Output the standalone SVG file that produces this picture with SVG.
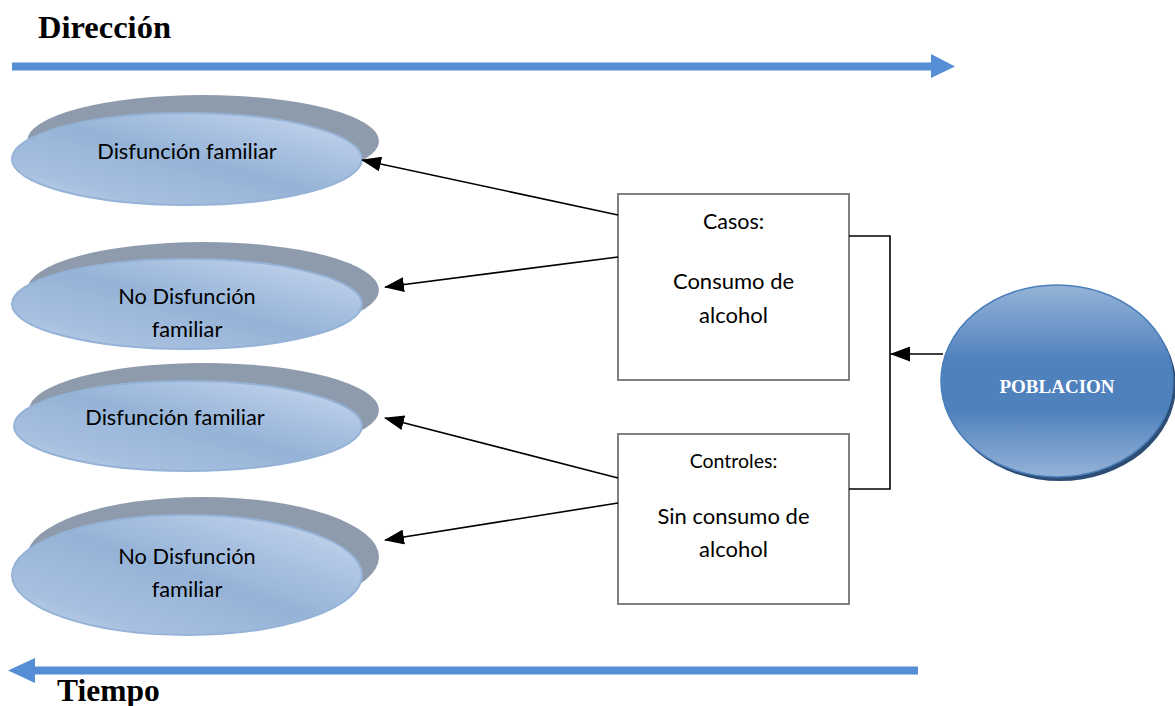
<svg xmlns="http://www.w3.org/2000/svg" width="1175" height="706" viewBox="0 0 1175 706">
<style>
.lbl{font-family:Lato,"Liberation Sans",sans-serif;font-size:21.8px;fill:#000;text-anchor:middle}
.box{fill:#fff;stroke:#7f7f7f;stroke-width:2}
.shadow{fill:#8e9bac}
.front{fill:url(#gFront);stroke:#95b3d7;stroke-width:2}
.conn{fill:none;stroke:#000;stroke-width:1.6}
.big{font-family:"Liberation Serif",serif;font-weight:bold;font-size:31.5px;fill:#000}
.blue{fill:#558ed5}
</style>
<defs>
<linearGradient id="gFront" x1="0" y1="1" x2="1" y2="0">
<stop offset="0" stop-color="#c9d8ee"/>
<stop offset="0.2" stop-color="#a8c0e0"/>
<stop offset="0.5" stop-color="#95b3d7"/>
<stop offset="0.8" stop-color="#b4c9e6"/>
<stop offset="1" stop-color="#d3e0f1"/>
</linearGradient>
<linearGradient id="gPob" x1="0" y1="0" x2="0" y2="1">
<stop offset="0" stop-color="#95b3d7"/>
<stop offset="0.4" stop-color="#4f81bd"/>
<stop offset="0.65" stop-color="#4f81bd"/>
<stop offset="1" stop-color="#95b3d7"/>
</linearGradient>
<marker id="ahL" markerWidth="20" markerHeight="15" refX="19" refY="7.5" orient="auto" markerUnits="userSpaceOnUse" viewBox="0 0 20 15">
<path d="M0,0 L20,7.5 L0,15 Z" fill="#000"/>
</marker>
</defs>

<g id="direccion">
<text class="big" x="38" y="38" style="font-size:32.5px">Dirección</text>
<path class="blue" d="M12,62.5 H931 V54 L955,66.5 L931,78 V70.5 H12 Z"/>
</g>

<g id="tiempo">
<path class="blue" d="M918,666.5 H35 V658 L8,670.5 L35,683 V674.5 H918 Z"/>
<text class="big" x="57" y="701">Tiempo</text>
</g>

<g id="e1">
<ellipse class="shadow" cx="203" cy="141" rx="176" ry="46"/>
<ellipse class="front" cx="187" cy="159" rx="175" ry="46"/>
<text class="lbl" x="187" y="159">Disfunción familiar</text>
</g>

<g id="e2">
<ellipse class="shadow" cx="203" cy="290" rx="176" ry="48"/>
<ellipse class="front" cx="187" cy="304" rx="175" ry="45"/>
<text class="lbl" x="187" y="304">No Disfunción</text>
<text class="lbl" x="187" y="337">familiar</text>
</g>

<g id="e3">
<ellipse class="shadow" cx="204" cy="410" rx="175" ry="47"/>
<ellipse class="front" cx="188" cy="426" rx="174" ry="45"/>
<text class="lbl" x="175" y="425">Disfunción familiar</text>
</g>

<g id="e4">
<ellipse class="shadow" cx="203" cy="557" rx="176" ry="60"/>
<ellipse class="front" cx="187" cy="575" rx="175" ry="60"/>
<text class="lbl" x="187" y="564">No Disfunción</text>
<text class="lbl" x="187" y="597">familiar</text>
</g>

<g id="casos">
<rect class="box" x="618" y="194" width="231" height="186"/>
<text class="lbl" x="733.5" y="229" style="font-size:21.5px">Casos:</text>
<text class="lbl" x="733.5" y="289" style="font-size:22px">Consumo de</text>
<text class="lbl" x="733.5" y="323" style="font-size:22px">alcohol</text>
</g>

<g id="controles">
<rect class="box" x="618" y="434" width="231" height="170"/>
<text class="lbl" x="733.5" y="468" style="font-size:19.5px">Controles:</text>
<text class="lbl" x="733.5" y="524" style="font-size:22px">Sin consumo de</text>
<text class="lbl" x="733.5" y="557" style="font-size:22px">alcohol</text>
</g>

<g id="poblacion">
<ellipse cx="1060" cy="385" rx="116" ry="96" fill="#2e4d75"/>
<ellipse cx="1057" cy="381" rx="116" ry="96" fill="url(#gPob)" stroke="#4a7ebb" stroke-width="1.5"/>
<text x="1057" y="393" style="font-family:'Liberation Serif',serif;font-weight:bold;font-size:19px;fill:#fff;text-anchor:middle">POBLACION</text>
</g>

<g id="connectors">
<line class="conn" x1="618" y1="215" x2="362" y2="160" marker-end="url(#ahL)"/>
<line class="conn" x1="618" y1="257" x2="385" y2="287" marker-end="url(#ahL)"/>
<line class="conn" x1="618" y1="478" x2="385" y2="418" marker-end="url(#ahL)"/>
<line class="conn" x1="618" y1="503" x2="385" y2="540" marker-end="url(#ahL)"/>
<polyline class="conn" points="849,236 890,236 890,489 849,489"/>
<line class="conn" x1="943" y1="354" x2="891" y2="354" marker-end="url(#ahL)"/>
</g>
</svg>
